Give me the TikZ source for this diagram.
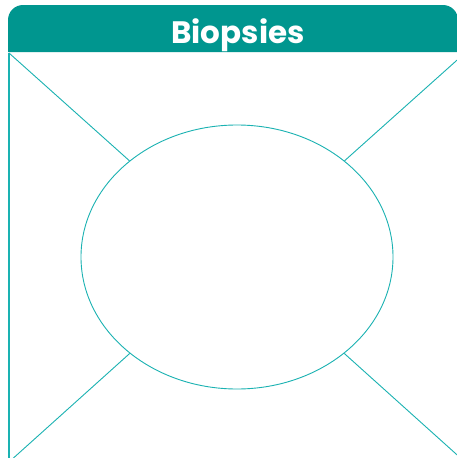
\documentclass[tikz,border=0pt]{standalone}
\usepackage{fontspec}
\newfontfamily\titlefont{Poppins}[UprightFont=* Bold]
\usetikzlibrary{shapes.geometric}
\definecolor{hdr}{HTML}{00968F}
\definecolor{ln}{HTML}{1AB2B2}
\tikzset{
  conn/.style={draw=ln, line width=0.9pt},
  border/.style={draw=ln, line width=2pt},
  oval/.style={ellipse, draw=ln, line width=0.9pt, minimum width=312pt, minimum height=264pt, inner sep=0pt}
}
\begin{document}
\begin{tikzpicture}[x=1pt,y=1pt]
\useasboundingbox (0,0) rectangle (457,-458);
\clip (0,0) rectangle (457,-458);
\fill[white] (0,0) rectangle (457,-458);
\coordinate (tl) at (9,-53);
\coordinate (tr) at (465,-53);
\coordinate (bl) at (9,-462);
\coordinate (br) at (465,-462);
\draw[border] (tl) -- (bl);
\draw[border] (tr) -- (br);
\fill[hdr] (8,-52) -- (8,-20) arc[start angle=180,end angle=90,radius=15] -- (443,-5) arc[start angle=90,end angle=0,radius=15] -- (458,-52) -- cycle;
\node[text=white, font=\titlefont\fontsize{31}{34}\selectfont] (title) at (238,-35) {Biopsies};
\node[oval] (e) at (237,-257) {};
\draw[conn] (tl) -- (e);
\draw[conn] (tr) -- (e);
\draw[conn] (bl) -- (e);
\draw[conn] (br) -- (e);
\end{tikzpicture}
\end{document}
